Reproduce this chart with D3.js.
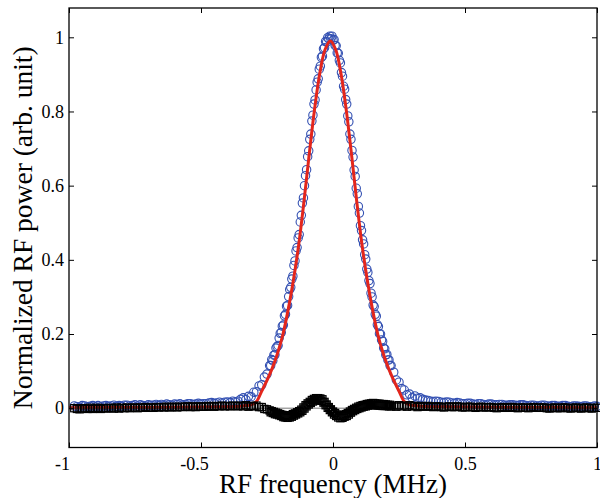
<!DOCTYPE html>
<html>
<head>
<meta charset="utf-8">
<script src="https://cdn.jsdelivr.net/npm/d3@7"></script>
<style>
  body { margin: 0; background: #fff; }
  svg text { font-family: "Liberation Serif", "Times New Roman", serif; fill: #000; }
</style>
</head>
<body>
<div id="chart"></div>
<script>
const freq = [
  -0.98, -0.97, -0.96, -0.95, -0.94, -0.93, -0.92, -0.91, -0.90, -0.89,
  -0.88, -0.87, -0.86, -0.85, -0.84, -0.83, -0.82, -0.81, -0.80, -0.79,
  -0.78, -0.77, -0.76, -0.75, -0.74, -0.73, -0.72, -0.71, -0.70, -0.69,
  -0.68, -0.67, -0.66, -0.65, -0.64, -0.63, -0.62, -0.61, -0.60, -0.59,
  -0.58, -0.57, -0.56, -0.55, -0.54, -0.53, -0.52, -0.51, -0.50, -0.49,
  -0.48, -0.47, -0.46, -0.45, -0.44, -0.43, -0.42, -0.41, -0.40, -0.39,
  -0.38, -0.37, -0.36,
  -0.35, -0.34, -0.33, -0.32, -0.31, -0.30, -0.29, -0.28, -0.27, -0.26, -0.25,
  -0.240, -0.236, -0.232, -0.228, -0.224, -0.220, -0.216, -0.212, -0.208, -0.204,
  -0.200, -0.196, -0.192, -0.188, -0.184, -0.180, -0.176, -0.172, -0.168, -0.164,
  -0.160, -0.156, -0.152, -0.148, -0.144, -0.140, -0.136, -0.132, -0.128, -0.124,
  -0.120, -0.116, -0.112, -0.108, -0.104, -0.100, -0.096, -0.092, -0.088, -0.084,
  -0.080, -0.076, -0.072, -0.068, -0.064, -0.060, -0.056, -0.052, -0.048, -0.044,
  -0.040, -0.036, -0.032, -0.028, -0.024, -0.020, -0.016, -0.012,
  -0.008, -0.004, 0.000, 0.004, 0.008, 0.012, 0.016, 0.020, 0.024, 0.028,
  0.032, 0.036, 0.040, 0.044, 0.048, 0.052, 0.056, 0.060, 0.064, 0.068,
  0.072, 0.076, 0.080, 0.084, 0.088, 0.092, 0.096, 0.100, 0.104, 0.108,
  0.112, 0.116, 0.120, 0.124, 0.128, 0.132, 0.136, 0.140, 0.144, 0.148,
  0.152, 0.156, 0.160, 0.164, 0.168, 0.172, 0.176, 0.180, 0.184, 0.188,
  0.192, 0.196, 0.200, 0.204, 0.208, 0.212, 0.216, 0.220,
  0.23, 0.24, 0.25, 0.26, 0.27, 0.28, 0.29, 0.30, 0.31, 0.32, 0.33, 0.34, 0.35,
  0.36, 0.37, 0.38, 0.39, 0.40, 0.41, 0.42, 0.43, 0.44, 0.45,
  0.46, 0.47, 0.48, 0.49, 0.50, 0.51, 0.52, 0.53, 0.54, 0.55,
  0.56, 0.57, 0.58, 0.59, 0.60, 0.61, 0.62, 0.63, 0.64, 0.65,
  0.66, 0.67, 0.68, 0.69, 0.70, 0.71, 0.72, 0.73, 0.74, 0.75,
  0.76, 0.77, 0.78, 0.79, 0.80, 0.81, 0.82, 0.83, 0.84, 0.85,
  0.86, 0.87, 0.88, 0.89, 0.90, 0.91, 0.92, 0.93, 0.94, 0.95,
  0.96, 0.97, 0.98, 0.99, 1.00
];

// normalized RF power (blue circles)
const power = [
  0.006, 0.004, 0.003, 0.007, 0.006, 0.004, 0.005, 0.007, 0.004, 0.007,
  0.004, 0.006, 0.007, 0.005, 0.006, 0.008, 0.005, 0.007, 0.005, 0.008,
  0.008, 0.006, 0.007, 0.009, 0.006, 0.009, 0.007, 0.006, 0.009, 0.008,
  0.008, 0.010, 0.007, 0.010, 0.008, 0.011, 0.009, 0.008, 0.011, 0.010,
  0.012, 0.009, 0.010, 0.012, 0.012, 0.010, 0.011, 0.013, 0.011, 0.012,
  0.012, 0.014, 0.015, 0.013, 0.014, 0.016, 0.014, 0.016, 0.017, 0.015,
  0.019, 0.017, 0.019,
  0.024, 0.028, 0.023, 0.032, 0.031, 0.043, 0.044, 0.060, 0.063, 0.084, 0.092,
  0.115, 0.115, 0.131, 0.128, 0.143, 0.144, 0.162, 0.166, 0.169, 0.189,
  0.202, 0.204, 0.221, 0.224, 0.249, 0.253, 0.275, 0.277, 0.301, 0.320,
  0.326, 0.348, 0.356, 0.385, 0.397, 0.424, 0.433, 0.459, 0.468, 0.502,
  0.520, 0.553, 0.567, 0.600, 0.627, 0.643, 0.678, 0.694, 0.725, 0.739,
  0.774, 0.790, 0.820, 0.831, 0.858, 0.879, 0.888, 0.914, 0.922, 0.946,
  0.949, 0.969, 0.972, 0.989, 0.987, 0.999, 0.996, 1.003,
  0.996, 1.003, 0.992, 0.994, 0.978, 0.977, 0.958, 0.957, 0.938, 0.931,
  0.905, 0.895, 0.868, 0.860, 0.832, 0.820, 0.788, 0.772, 0.739, 0.725,
  0.695, 0.677, 0.642, 0.625, 0.593, 0.578, 0.544, 0.526, 0.492, 0.479,
  0.454, 0.443, 0.414, 0.402, 0.375, 0.366, 0.344, 0.336, 0.310, 0.300,
  0.278, 0.274, 0.253, 0.248, 0.225, 0.220, 0.201, 0.200, 0.184, 0.180,
  0.162, 0.160, 0.144, 0.145, 0.130, 0.130, 0.115, 0.115,
  0.097, 0.076, 0.070, 0.053, 0.049, 0.036, 0.038, 0.028, 0.033, 0.027, 0.028, 0.024, 0.022,
  0.021, 0.019, 0.018, 0.019, 0.018, 0.016, 0.015, 0.017, 0.016, 0.014,
  0.013, 0.015, 0.014, 0.012, 0.012, 0.013, 0.013, 0.011, 0.010, 0.012,
  0.012, 0.010, 0.009, 0.011, 0.011, 0.009, 0.009, 0.010, 0.010, 0.008,
  0.008, 0.009, 0.009, 0.008, 0.007, 0.009, 0.009, 0.007, 0.006, 0.008,
  0.008, 0.006, 0.006, 0.008, 0.008, 0.006, 0.005, 0.007, 0.007, 0.005,
  0.005, 0.007, 0.007, 0.005, 0.004, 0.006, 0.006, 0.005, 0.004, 0.006,
  0.006, 0.004, 0.004, 0.006, 0.005
];

// fit residual (black squares)
const residual = [
  0.000, -0.002, -0.003, 0.000, -0.001, -0.002, 0.001, -0.002, -0.001, 0.001,
  -0.002, 0.000, -0.001, 0.001, 0.000, -0.001, 0.002, -0.001, 0.001, 0.000,
  0.002, 0.000, 0.001, 0.002, 0.000, 0.002, 0.001, 0.003, 0.001, 0.002,
  0.001, 0.003, 0.002, 0.003, 0.002, 0.004, 0.002, 0.003, 0.004, 0.002,
  0.004, 0.003, 0.004, 0.005, 0.003, 0.005, 0.003, 0.004, 0.005, 0.004,
  0.004, 0.006, 0.005, 0.004, 0.006, 0.005, 0.007, 0.005, 0.006, 0.005,
  0.007, 0.006, 0.005,
  0.007, 0.005, 0.008, 0.004, 0.006, 0.005, 0.007, 0.003, 0.003, -0.002, -0.003,
  -0.006, -0.011, -0.008, -0.013, -0.010, -0.016, -0.012, -0.017, -0.014, -0.019,
  -0.016, -0.021, -0.018, -0.024, -0.019, -0.025, -0.021, -0.026, -0.020, -0.025,
  -0.019, -0.023, -0.016, -0.020, -0.014, -0.017, -0.011, -0.014, -0.008, -0.011,
  -0.004, -0.007, 0.002, -0.001, 0.008, 0.005, 0.013, 0.010, 0.017, 0.014,
  0.022, 0.018, 0.025, 0.021, 0.027, 0.023, 0.027, 0.021, 0.026, 0.020,
  0.024, 0.015, 0.017, 0.008, 0.010, 0.001, 0.003, -0.005,
  -0.003, -0.011, -0.009, -0.017, -0.013, -0.021, -0.017, -0.025, -0.020, -0.027,
  -0.021, -0.026, -0.019, -0.023, -0.016, -0.021, -0.013, -0.017, -0.009, -0.012,
  -0.005, -0.008, -0.002, -0.005, 0.001, -0.002, 0.004, 0.000, 0.006, 0.002,
  0.008, 0.004, 0.009, 0.005, 0.011, 0.007, 0.012, 0.008, 0.013, 0.009,
  0.014, 0.008, 0.013, 0.008, 0.012, 0.007, 0.012, 0.007, 0.011, 0.006,
  0.011, 0.006, 0.010, 0.006, 0.009, 0.005, 0.009, 0.005,
  0.007, 0.004, 0.008, 0.005, 0.007, 0.004, 0.008, 0.005, 0.006, 0.003, 0.006, 0.004, 0.005,
  0.006, 0.004, 0.003, 0.005, 0.005, 0.003, 0.002, 0.004, 0.005, 0.003,
  0.003, 0.005, 0.004, 0.002, 0.002, 0.004, 0.004, 0.002, 0.001, 0.003,
  0.004, 0.002, 0.002, 0.003, 0.003, 0.001, 0.000, 0.002, 0.003, 0.001,
  0.001, 0.003, 0.003, 0.001, 0.000, 0.002, 0.002, 0.001, 0.000, 0.002,
  0.003, 0.001, 0.001, 0.002, 0.002, 0.000, -0.001, 0.001, 0.002, 0.000,
  0.000, 0.002, 0.002, 0.000, -0.001, 0.001, 0.002, 0.000, -0.001, 0.001,
  0.002, 0.000, -0.001, 0.001, 0.001
];

// fitted curve (red line)
const fitFreq = [
  -1.00, -0.70, -0.50, -0.40, -0.35, -0.33, -0.31, -0.29, -0.27, -0.25, -0.23, -0.21, -0.19, -0.17, -0.15, -0.13,
  -0.11, -0.09, -0.07, -0.05, -0.03, -0.01, 0.01, 0.03, 0.05, 0.07, 0.09, 0.11, 0.13, 0.15, 0.17, 0.19,
  0.21, 0.23, 0.25, 0.27, 0.29, 0.31, 0.33, 0.40, 0.50, 0.70, 1.00
];
const fitPower = [
  0.001, 0.002, 0.003, 0.004, 0.005, 0.007, 0.009, 0.018, 0.046, 0.075, 0.108, 0.148, 0.198, 0.265, 0.345, 0.440,
  0.557, 0.685, 0.805, 0.903, 0.967, 0.990, 0.967, 0.903, 0.805, 0.685, 0.557, 0.440, 0.345, 0.265, 0.198, 0.148,
  0.108, 0.075, 0.046, 0.018, 0.009, 0.007, 0.005, 0.004, 0.003, 0.002, 0.001
];

const xTicks = [-1, -0.5, 0, 0.5, 1];
const xTickLabels = ['-1', '-0.5', '0', '0.5', '1'];
const yTicks = [0, 0.2, 0.4, 0.6, 0.8, 1];
const yTickLabels = ['0', '0.2', '0.4', '0.6', '0.8', '1'];

let width = 600;
let height = 498;
let plot = {left: 69, right: 597, top: 8, bottom: 447.5};

let x = d3.scaleLinear()
    .domain([-1, 1])
    .range([plot.left, plot.right]);

let y = d3.scaleLinear()
    .domain([-0.106, 1.079])
    .range([plot.bottom, plot.top]);

let svg = d3.select('#chart').append('svg')
    .attr('width', width)
    .attr('height', height);

svg.append('rect')
    .attr('width', width)
    .attr('height', height)
    .attr('fill', '#fff');

let n = Math.min(freq.length, power.length, residual.length);
let points = d3.range(n).map(function (i) {
  return {f: freq[i], p: power[i], r: residual[i]};
});
let fit = fitFreq.map(function (f, i) { return {f: f, p: fitPower[i]}; });

// data circles
svg.append('g')
    .selectAll('circle')
    .data(points)
    .enter().append('circle')
      .attr('cx', function (d) { return x(d.f); })
      .attr('cy', function (d) { return y(d.p); })
      .attr('r', 4.2)
      .attr('fill', 'none')
      .attr('stroke', '#3350b2')
      .attr('stroke-width', 1.1);

// fit
let line = d3.line()
    .x(function (d) { return x(d.f); })
    .y(function (d) { return y(d.p); })
    .curve(d3.curveCatmullRom);

svg.append('path')
    .datum(fit)
    .attr('d', line)
    .attr('fill', 'none')
    .attr('stroke', '#e3261c')
    .attr('stroke-width', 3);

// zero line
svg.append('line')
    .attr('x1', x(-1))
    .attr('x2', x(1))
    .attr('y1', y(0))
    .attr('y2', y(0))
    .attr('stroke', '#555')
    .attr('stroke-width', 0.8);

// residual squares
svg.append('g')
    .selectAll('rect')
    .data(points)
    .enter().append('rect')
      .attr('x', function (d) { return x(d.f) - 3.6; })
      .attr('y', function (d) { return y(d.r) - 3.6; })
      .attr('width', 7.2)
      .attr('height', 7.2)
      .attr('fill', 'none')
      .attr('stroke', '#000')
      .attr('stroke-width', 1.2);

// axes, ticks inward on all four sides
let xAxis = d3.axisBottom(x)
    .tickValues(xTicks)
    .tickFormat(function (d, i) { return xTickLabels[i]; })
    .tickSize(-5)
    .tickSizeOuter(0)
    .tickPadding(10);

let yAxis = d3.axisLeft(y)
    .tickValues(yTicks)
    .tickFormat(function (d, i) { return yTickLabels[i]; })
    .tickSize(-5)
    .tickSizeOuter(0)
    .tickPadding(5);

let gx = svg.append('g')
    .attr('transform', 'translate(0,' + plot.bottom + ')')
    .call(xAxis);
gx.selectAll('text')
    .attr('dx', function (d) { return d < 0 ? -7 : 0; });

let gy = svg.append('g')
    .attr('transform', 'translate(' + plot.left + ',0)')
    .call(yAxis);

svg.append('g')
    .attr('transform', 'translate(0,' + plot.top + ')')
    .call(d3.axisTop(x).tickValues(xTicks).tickFormat('').tickSize(-5).tickSizeOuter(0));

svg.append('g')
    .attr('transform', 'translate(' + plot.right + ',0)')
    .call(d3.axisRight(y).tickValues(yTicks).tickFormat('').tickSize(-5).tickSizeOuter(0));

svg.selectAll('.domain').remove();
svg.selectAll('.tick line')
    .attr('stroke', '#000')
    .attr('stroke-width', 1);
svg.selectAll('.tick text')
    .attr('font-size', 18)
    .attr('font-family', '"Liberation Serif", serif')
    .attr('fill', '#000');

svg.append('rect')
    .attr('x', plot.left)
    .attr('y', plot.top)
    .attr('width', plot.right - plot.left)
    .attr('height', plot.bottom - plot.top)
    .attr('fill', 'none')
    .attr('stroke', '#000')
    .attr('stroke-width', 1.3);

svg.append('text')
    .attr('x', (plot.left + plot.right) / 2)
    .attr('y', 493)
    .attr('text-anchor', 'middle')
    .attr('font-size', 27)
    .text('RF frequency (MHz)');

svg.append('text')
    .attr('transform', 'translate(32,' + (plot.top + plot.bottom) / 2 + ') rotate(-90)')
    .attr('text-anchor', 'middle')
    .attr('font-size', 27.5)
    .text('Normalized RF power (arb. unit)');
</script>
</body>
</html>
